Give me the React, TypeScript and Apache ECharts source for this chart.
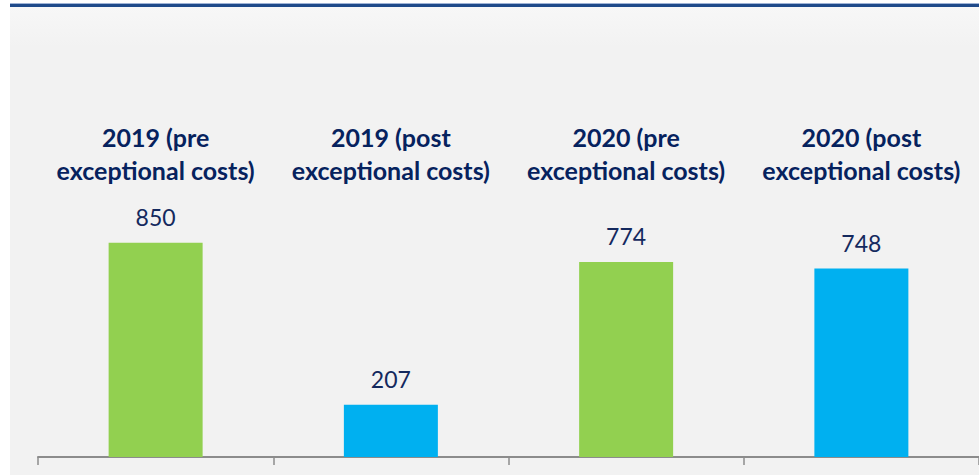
import React, { useEffect, useRef } from "react";
import * as echarts from "echarts";

const categories = [
  "2019 (pre\nexceptional costs)",
  "2019 (post\nexceptional costs)",
  "2020 (pre\nexceptional costs)",
  "2020 (post\nexceptional costs)",
];
const values = [850, 207, 774, 748];

const GREEN = "#92d050";
const BLUE = "#00b0f0";
const barColors = [GREEN, BLUE, GREEN, BLUE];

export default function App() {
  const ref = useRef<HTMLDivElement>(null);
  useEffect(() => {
    if (!ref.current) return;
    const chart = echarts.init(ref.current, undefined, { renderer: "svg" });
    chart.setOption({
      animation: false,
      backgroundColor: "transparent",
      grid: { left: 38, width: 944, top: 205, bottom: 18, containLabel: false },
      xAxis: [
        {
          type: "category",
          data: categories,
          position: "bottom",
          axisLine: { show: true, lineStyle: { color: "#8c8c8c", width: 2 } },
          axisTick: { show: true, length: 8, lineStyle: { color: "#8c8c8c", width: 1.5 } },
          axisLabel: { show: false },
        },
        {
          type: "category",
          data: categories,
          position: "top",
          axisLine: { show: false },
          axisTick: { show: false },
          axisLabel: {
            show: true,
            interval: 0,
            hideOverlap: false,
            margin: 19,
            fontFamily: "Lato",
            fontWeight: "bold",
            fontSize: 25,
            lineHeight: 33,
            color: "#06225e",
          },
        },
      ],
      yAxis: { type: "value", min: 0, max: 1000, show: false, splitLine: { show: false } },
      series: [
        {
          type: "bar",
          xAxisIndex: 0,
          data: values.map((v, i) => ({ value: v, itemStyle: { color: barColors[i] } })),
          barWidth: 94,
          label: {
            show: true,
            position: "top",
            distance: 14,
            fontFamily: "Lato",
            fontSize: 23,
            color: "#14295e",
          },
        },
      ],
    });
    return () => chart.dispose();
  }, []);
  return (
    <div style={{ position: "absolute", left: 0, top: 0, width: 979, height: 475, background: "#ffffff", overflow: "hidden" }}>
      <div
        style={{
          position: "absolute",
          left: 10,
          top: 4,
          right: 0,
          bottom: 0,
          background: "linear-gradient(#f7f7f7, #f2f2f2 40px)",
          borderTop: "3px solid #1f4a8a",
          boxShadow: "0 -1px 0 #9fb3d6",
        }}
      />
      <div ref={ref} style={{ position: "absolute", left: 0, top: 0, width: 979, height: 475 }} />
    </div>
  );
}
